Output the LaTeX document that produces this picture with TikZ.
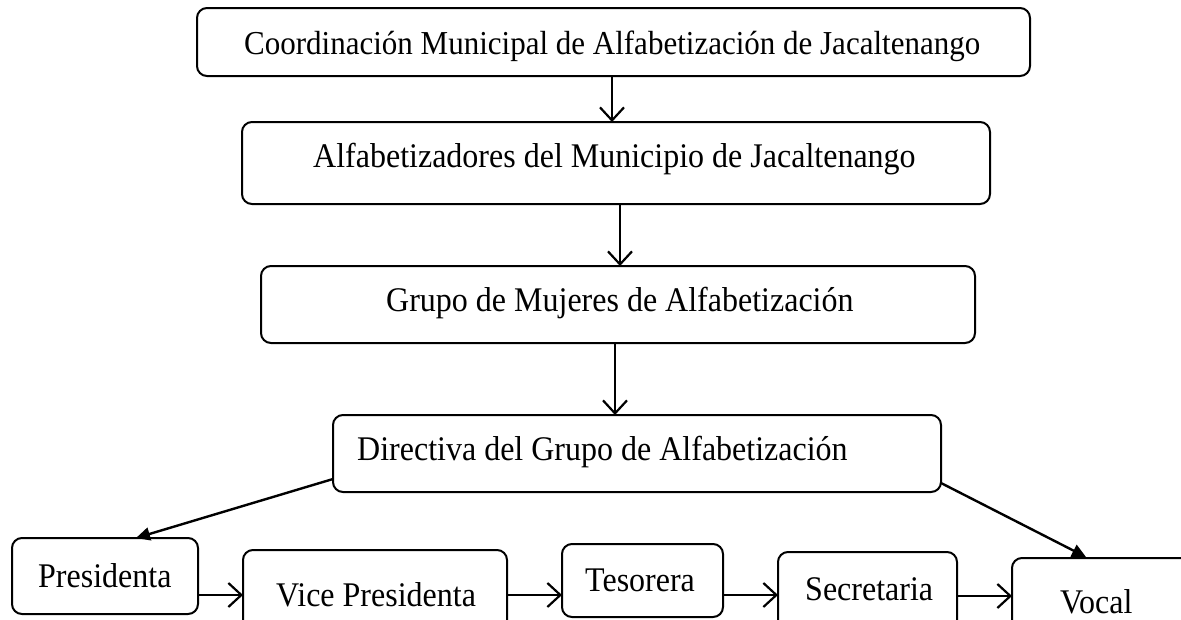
\documentclass[tikz,border=0pt]{standalone}
\usepackage{graphicx}
\usepackage{fontspec}
\setmainfont{Liberation Serif}
\usetikzlibrary{arrows.meta}
\newcommand{\tallt}[1]{\scalebox{1}[1.08]{#1}}
\begin{document}
\begin{tikzpicture}[x=1pt,y=-1pt,
  box/.style={draw=black,line width=2pt,rounded corners=10pt},
  lbl/.style={font=\fontsize{32}{36}\selectfont,anchor=base west,inner sep=0pt},
  open/.style={line width=2.2pt,-{Straight Barb[length=13pt,width=24pt,line width=2.2pt]}},
  solid/.style={line width=2.4pt,-{Triangle[length=14pt,width=13pt]}}]
\useasboundingbox (0,0) rectangle (1181,619);
\clip (0,0) rectangle (1181,619);
% boxes
\draw[box] (197,8) rectangle (1030,76);
\draw[box] (242,122) rectangle (990,204);
\draw[box] (261,266) rectangle (975,343);
\draw[box] (333,415) rectangle (941,492);
\draw[box] (12,538) rectangle (198,614);
\draw[box] (243,550) rectangle (507,640);
\draw[box] (562,544) rectangle (723,617);
\draw[box] (778,552) rectangle (957,640);
\draw[box] (1012,558) rectangle (1200,640);
% named anchors
\coordinate (b1s) at (612,76);  \coordinate (b2n) at (612,122);
\coordinate (b2s) at (620,204); \coordinate (b3n) at (620,266);
\coordinate (b3s) at (615,343); \coordinate (b4n) at (615,415);
\coordinate (b4w) at (333,479); \coordinate (pn) at (136,538);
\coordinate (b4e) at (941,483); \coordinate (vn) at (1086,557);
\coordinate (pe) at (198,595); \coordinate (vpw) at (243,595);
\coordinate (vpe) at (507,595); \coordinate (tw) at (562,595);
\coordinate (te) at (723,595); \coordinate (sw) at (778,595);
\coordinate (se) at (957,596); \coordinate (vow) at (1012,596);
% labels
\node[lbl] (t1) at (244,54) {\fontsize{31}{36}\selectfont\tallt{Coordinación Municipal de Alfabetización de Jacaltenango}};
\node[lbl] (t2) at (313,167) {\tallt{Alfabetizadores del Municipio de Jacaltenango}};
\node[lbl] (t3) at (386,311) {\tallt{Grupo de Mujeres de Alfabetización}};
\node[lbl] (t4) at (357,460) {\tallt{Directiva del Grupo de Alfabetización}};
\node[lbl] (t5) at (38,587) {\tallt{Presidenta}};
\node[lbl] (t6) at (276,606) {\tallt{Vice Presidenta}};
\node[lbl] (t7) at (585,591) {\tallt{Tesorera}};
\node[lbl] (t8) at (805,600) {\tallt{Secretaria}};
\node[lbl] (t9) at (1060,613) {\tallt{Vocal}};
% connectors
\draw[open] (b1s) -- (b2n);
\draw[open] (b2s) -- (b3n);
\draw[open] (b3s) -- (b4n);
\draw[solid] (b4w) -- (pn);
\draw[solid] (b4e) -- (vn);
\draw[open] (pe) -- (vpw);
\draw[open] (vpe) -- (tw);
\draw[open] (te) -- (sw);
\draw[open] (se) -- (vow);
\end{tikzpicture}
\end{document}
